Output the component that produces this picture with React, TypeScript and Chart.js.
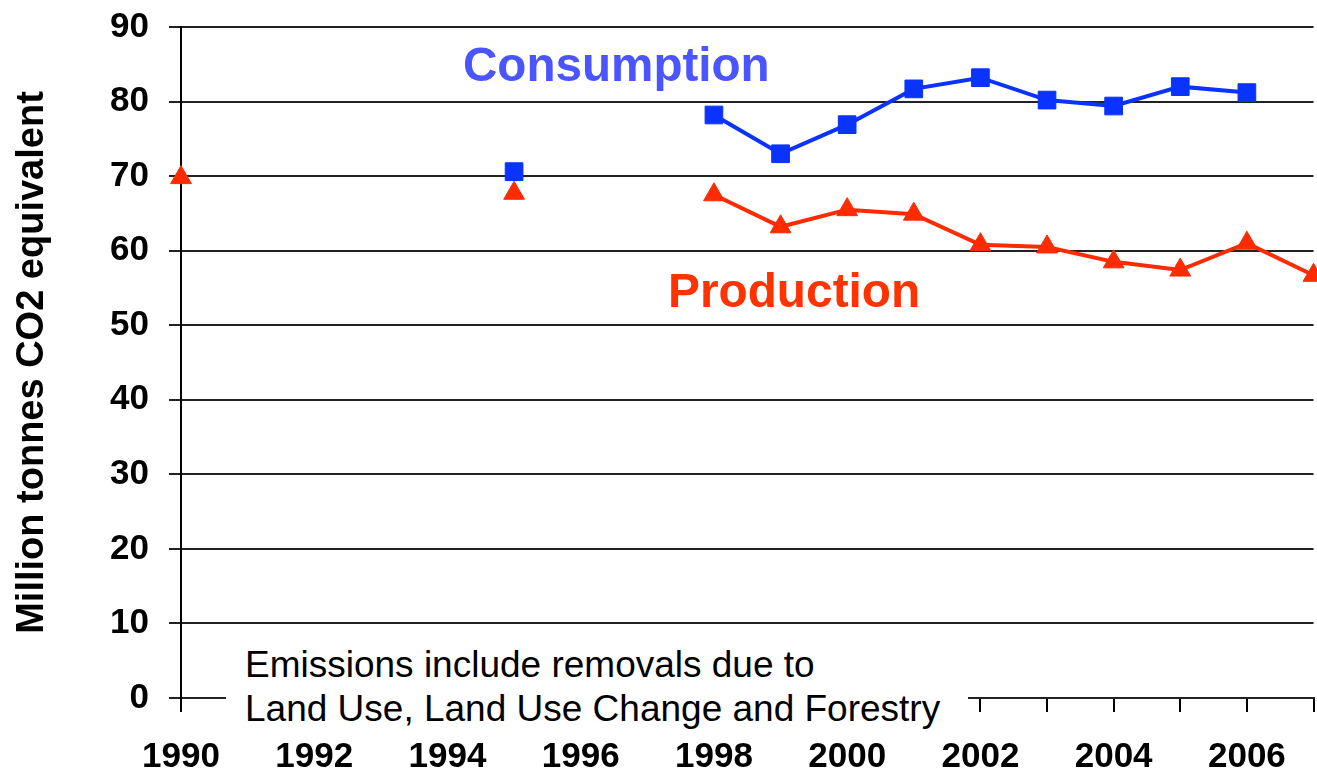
import React, { useEffect, useRef } from "react";
import { Chart, registerables } from "chart.js";

Chart.register(...registerables);

const years: string[] = [
  "1990", "1991", "1992", "1993", "1994", "1995", "1996", "1997", "1998",
  "1999", "2000", "2001", "2002", "2003", "2004", "2005", "2006", "2007",
];
const consumption: (number | null)[] = [
  null, null, null, null, null, 70.6, null, null, 78.2,
  73.0, 76.9, 81.7, 83.2, 80.2, 79.4, 82.0, 81.2, null,
];
const production: (number | null)[] = [
  69.8, null, null, null, null, 67.7, null, null, 67.5,
  63.2, 65.5, 64.9, 60.8, 60.5, 58.5, 57.4, 61.0, 56.7,
];
const yTitle = "Million tonnes CO2 equivalent";
const seriesNames = ["Consumption", "Production"];
const noteLines = ["Emissions include removals due to", "Land Use, Land Use Change and Forestry"];

const FONT = "'Liberation Sans', Arial, Helvetica, sans-serif";

export default function App() {
  const ref = useRef<HTMLCanvasElement | null>(null);

  useEffect(() => {
    if (!ref.current) return;
    const chart = new Chart(ref.current, {
      type: "line",
      data: {
        labels: years,
        datasets: [
          {
            label: seriesNames[0],
            data: consumption,
            borderColor: "#0a33ff",
            backgroundColor: "#0a33ff",
            borderWidth: 4,
            pointStyle: "rect",
            pointRadius: 12.5,
            pointBorderWidth: 1,
            spanGaps: false,
          },
          {
            label: seriesNames[1],
            data: production,
            borderColor: "#ff2b00",
            backgroundColor: "#ff2b00",
            borderWidth: 4,
            pointStyle: "triangle",
            pointRadius: 12,
            pointBorderWidth: 1,
            spanGaps: false,
          },
        ],
      },
      options: {
        animation: false,
        responsive: true,
        maintainAspectRatio: false,
        layout: { padding: { top: 27, right: 0, left: 0, bottom: 0 } },
        plugins: {
          legend: { display: false },
          tooltip: { enabled: false },
        },
        scales: {
          x: {
            type: "category",
            offset: false,
            grid: {
              display: true,
              drawOnChartArea: false,
              drawTicks: true,
              tickLength: 14,
              color: "#000",
              lineWidth: 2,
            },
            border: { display: true, color: "#222", width: 2 },
            ticks: {
              autoSkip: false,
              maxRotation: 0,
              padding: 24,
              color: "#000",
              font: { family: FONT, size: 35, weight: "bold" },
              callback: (_v: any, i: number) => (i % 2 === 0 ? years[i] : ""),
            },
            afterFit: (s: any) => {
              s.height = 74;
              s.paddingLeft = 0;
              s.paddingRight = 0;
            },
          },
          y: {
            min: 0,
            max: 90,
            grid: {
              color: "#222",
              lineWidth: 2,
              tickLength: 12,
            },
            border: { display: true, color: "#000", width: 2 },
            ticks: {
              stepSize: 10,
              padding: 20,
              color: "#000",
              font: { family: FONT, size: 35, weight: "bold" },
            },
            title: {
              display: true,
              text: yTitle,
              color: "#000",
              padding: { top: 10, bottom: 0 },
              font: { family: FONT, size: 38, weight: "bold" },
            },
            afterFit: (s: any) => {
              s.width = 181;
              s.paddingTop = 0;
              s.paddingBottom = 0;
            },
          },
        },
      },
    });
    return () => chart.destroy();
  }, []);

  return (
    <div style={{ position: "fixed", left: 0, top: 0, width: 1317, height: 772, background: "#fff", overflow: "hidden" }}>
      <div style={{ position: "absolute", left: 0, top: 0, width: 1327, height: 772 }}>
        <canvas ref={ref} />
      </div>
      <div
        style={{
          position: "absolute",
          left: 463,
          top: 41,
          fontFamily: FONT,
          fontWeight: "bold",
          fontSize: 47.6,
          lineHeight: "47px",
          color: "#4a55ff",
          whiteSpace: "nowrap",
        }}
      >
        {seriesNames[0]}
      </div>
      <div
        style={{
          position: "absolute",
          left: 668,
          top: 267,
          fontFamily: FONT,
          fontWeight: "bold",
          fontSize: 47.8,
          lineHeight: "47px",
          color: "#ff3300",
          whiteSpace: "nowrap",
        }}
      >
        {seriesNames[1]}
      </div>
      <div
        style={{
          position: "absolute",
          left: 226,
          top: 640,
          width: 742,
          height: 95,
          boxSizing: "border-box",
          paddingLeft: 19,
          paddingTop: 3,
          background: "#fff",
          fontFamily: FONT,
          fontSize: 37,
          lineHeight: "44px",
          color: "#000",
          whiteSpace: "nowrap",
        }}
      >
        <div>{noteLines[0]}</div>
        <div>{noteLines[1]}</div>
      </div>
    </div>
  );
}
